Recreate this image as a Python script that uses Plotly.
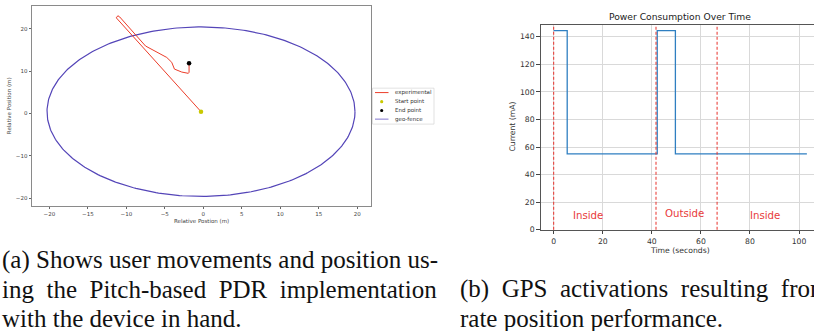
import numpy as np
import plotly.graph_objects as go

W, H = 814, 331

# ---------------- Left panel data ----------------
path_x = [-0.3, -11.3, -11.1, -10.85, -7.5, -5.8, -4.75, -4.1, -3.75, -2.8, -1.95, -1.85, -1.85]
path_y = [0.45, 22.6, 23.1, 22.8, 15.95, 14.2, 13.25, 12.1, 10.5, 9.8, 9.5, 9.75, 11.9]
start_x, start_y = [-0.3], [0.45]
end_x, end_y = [-1.85], [11.9]
fence_cx, fence_cy, fence_r = -0.3, 0.45, 20.0
left_xticks = [-20, -15, -10, -5, 0, 5, 10, 15, 20]
left_yticks = [-20, -10, 0, 10, 20]
legend_names = ["experimental", "Start point", "End point", "geo-fence"]

# ---------------- Right panel data ----------------
t_steps = [0, 5.5, 42.2, 49.6, 103.2]
current = [144.5, 55, 144.5, 55, 55]
boundaries = [0, 41.7, 66.6]
zone_labels = ["Inside", "Outside", "Inside"]
zone_x = [14.1, 53.2, 86.2]
zone_y = [10.7, 11.6, 10.7]
right_xticks = [0, 20, 40, 60, 80, 100]
right_yticks = [0, 20, 40, 60, 80, 100, 120, 140]

# captions (justified lines get slightly wider word gaps, like LaTeX)
NB = "\u00A0"
W1 = " " + NB
caption_a = ["(a) Shows user movements and position us-",
             W1.join(["ing", "the", "Pitch-based", "PDR", "implementation"]),
             "with the device in hand."]
caption_b = [W1.join(["(b)", "GPS", "activations", "resulting", "from"]),
             "rate position performance."]

def px(x):
    return x / W

def py(y):
    return 1 - y / H

RED = "#ec3d2a"
FENCE = "#5445b8"
FENCE_LEG = "#a59ddc"
YEL = "#c9c900"
BLUE = "#2f7fc1"
SANS = "DejaVu Sans"

fig = go.Figure()

# geo-fence circle from centre & radius
th = np.linspace(0, 2 * np.pi, 361)
fig.add_trace(go.Scatter(x=fence_cx + fence_r * np.cos(th), y=fence_cy + fence_r * np.sin(th),
                         mode="lines", line=dict(color=FENCE, width=1.2), name=legend_names[3],
                         showlegend=False, xaxis="x", yaxis="y"))
fig.add_trace(go.Scatter(x=path_x, y=path_y, mode="lines", line=dict(color=RED, width=1.0),
                         name=legend_names[0], showlegend=False, xaxis="x", yaxis="y"))
fig.add_trace(go.Scatter(x=start_x, y=start_y, mode="markers",
                         marker=dict(color=YEL, size=4.5, line=dict(width=0)),
                         name=legend_names[1], showlegend=False, xaxis="x", yaxis="y"))
fig.add_trace(go.Scatter(x=end_x, y=end_y, mode="markers",
                         marker=dict(color="black", size=4.5, line=dict(width=0)),
                         name=legend_names[2], showlegend=False, xaxis="x", yaxis="y"))

# right panel step
fig.add_trace(go.Scatter(x=t_steps, y=current, mode="lines", line=dict(color=BLUE, width=1.3, shape="hv"),
                         showlegend=False, xaxis="x2", yaxis="y2"))

shapes = []
for b in boundaries:
    shapes.append(dict(type="line", xref="x2", yref="y2 domain", x0=b, x1=b, y0=0, y1=1,
                       line=dict(color="#e8302a", width=1, dash="3px,2px"), layer="above"))

annotations = []
for lab, zx, zy in zip(zone_labels, zone_x, zone_y):
    annotations.append(dict(text=lab, x=zx, y=zy, xref="x2", yref="y2", showarrow=False,
                            font=dict(family=SANS, size=10.2, color="#e83a3a"),
                            xanchor="center", yanchor="middle"))

# titles / axis labels
annotations.append(dict(text="Power Consumption Over Time", x=px(680), y=py(16.5), xref="paper", yref="paper",
                        showarrow=False, font=dict(family=SANS, size=9.2, color="#222"),
                        xanchor="center", yanchor="middle"))
annotations.append(dict(text="Current (mA)", x=px(512.5), y=py(129), xref="paper", yref="paper",
                        showarrow=False, textangle=-90, font=dict(family=SANS, size=7.7, color="#333"),
                        xanchor="center", yanchor="middle"))
annotations.append(dict(text="Time (seconds)", x=px(680), y=py(254), xref="paper", yref="paper",
                        showarrow=False, font=dict(family=SANS, size=7.7, color="#333"),
                        xanchor="center", yanchor="middle"))
annotations.append(dict(text="Relative Position (m)", x=px(9.3), y=py(107.5), xref="paper", yref="paper",
                        showarrow=False, textangle=-90, font=dict(family=SANS, size=5.5, color="#444"),
                        xanchor="center", yanchor="middle"))
annotations.append(dict(text="Relative Postion (m)", x=px(201.5), y=py(224), xref="paper", yref="paper",
                        showarrow=False, font=dict(family=SANS, size=5.5, color="#444"),
                        xanchor="center", yanchor="middle"))

# legend for left panel
leg_rows = [94, 103.2, 112.2, 121]
shapes.append(dict(type="rect", xref="paper", yref="paper", x0=px(372.5), x1=px(434), y0=py(89.5), y1=py(126),
                   line=dict(color="#d4d4d4", width=0.7), fillcolor="rgba(255,255,255,0.8)", layer="above"))
for i, name in enumerate(legend_names):
    annotations.append(dict(text=name, x=px(393), y=py(leg_rows[i]), xref="paper", yref="paper",
                            showarrow=False, font=dict(family=SANS, size=5.5, color="#333"),
                            xanchor="left", yanchor="middle"))
shapes.append(dict(type="line", xref="paper", yref="paper", x0=px(375), x1=px(388.5),
                   y0=py(leg_rows[0]), y1=py(leg_rows[0]), line=dict(color=RED, width=1.0), layer="above"))
shapes.append(dict(type="line", xref="paper", yref="paper", x0=px(375), x1=px(388.5),
                   y0=py(leg_rows[3]), y1=py(leg_rows[3]), line=dict(color=FENCE_LEG, width=1.4), layer="above"))
for i, col in [(1, YEL), (2, "black")]:
    r = 1.6
    shapes.append(dict(type="circle", xref="paper", yref="paper", x0=px(381.7 - r), x1=px(381.7 + r),
                       y0=py(leg_rows[i] + r), y1=py(leg_rows[i] - r), line=dict(width=0),
                       fillcolor=col, layer="above"))

# captions
SERIF = "Liberation Serif, DejaVu Serif, serif"
CFS = 25
cap_rows = [263.5, 293.5, 323.5]
for i, line in enumerate(caption_a):
    annotations.append(dict(text=line, x=px(0), y=py(cap_rows[i]), xref="paper", yref="paper",
                            showarrow=False, font=dict(family=SERIF, size=CFS, color="#111"),
                            xanchor="left", yanchor="middle"))
for i, line in enumerate(caption_b):
    annotations.append(dict(text=line, x=px(458), y=py(cap_rows[i + 1]), xref="paper", yref="paper",
                            showarrow=False, font=dict(family=SERIF, size=CFS, color="#111"),
                            xanchor="left", yanchor="middle"))

left_tick_text = [str(v).replace("-", "\u2212") for v in left_xticks]
left_ytick_text = [str(v).replace("-", "\u2212") for v in left_yticks]

fig.update_layout(
    width=W, height=H, autosize=False,
    margin=dict(l=0, r=0, t=0, b=0),
    paper_bgcolor="white", plot_bgcolor="white",
    showlegend=False,
    font=dict(family=SANS),
    xaxis=dict(domain=[px(32), px(371)], range=[-22.25, 21.78], anchor="y",
               tickvals=left_xticks, ticktext=left_tick_text, ticks="outside", ticklen=2.5,
               tickwidth=0.6, tickcolor="#666", tickfont=dict(size=5.5, color="#444"),
               showline=True, mirror=True, linecolor="#8a8a8a", linewidth=0.9,
               showgrid=False, zeroline=False),
    yaxis=dict(domain=[py(209), py(6)], range=[-21.79, 25.42], anchor="x",
               tickvals=left_yticks, ticktext=left_ytick_text, ticks="outside", ticklen=2.5,
               tickwidth=0.6, tickcolor="#666", tickfont=dict(size=5.5, color="#444"),
               showline=True, mirror=True, linecolor="#8a8a8a", linewidth=0.9,
               showgrid=False, zeroline=False),
    xaxis2=dict(domain=[px(540.7), 1.0], range=[-5.3, 106.1], anchor="y2",
                tickvals=right_xticks, ticks="outside", ticklen=3.5, tickwidth=0.8, tickcolor="#444",
                tickfont=dict(size=7.7, color="#333"),
                showline=True, mirror=True, linecolor="#555", linewidth=1,
                showgrid=True, gridcolor="#d9d9d9", gridwidth=0.8, zeroline=False),
    yaxis2=dict(domain=[py(233.3), py(25)], range=[0, 148.8], anchor="x2",
                tickvals=right_yticks, ticks="outside", ticklen=3.5, tickwidth=0.8, tickcolor="#444",
                tickfont=dict(size=7.7, color="#333"),
                showline=True, mirror=False, linecolor="#555", linewidth=1,
                showgrid=True, gridcolor="#d9d9d9", gridwidth=0.8, zeroline=False),
    annotations=annotations,
    shapes=shapes,
)

fig.write_html("out.html")
